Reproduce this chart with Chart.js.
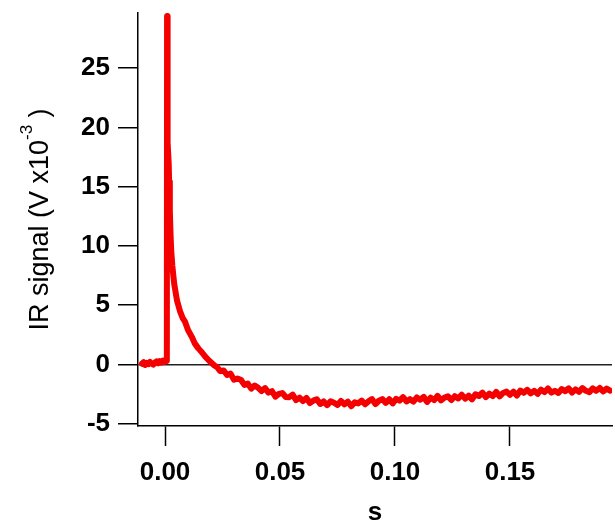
<!DOCTYPE html>
<html>
<head>
<meta charset="utf-8">
<script src="https://cdn.jsdelivr.net/npm/chart.js@4/dist/chart.umd.min.js"></script>
<style>
  html, body { margin: 0; padding: 0; background: #fff; }
  #wrap { width: 615px; height: 521px; }
</style>
</head>
<body>
<div id="wrap"><canvas id="c" width="615" height="521"></canvas></div>
<script>
// Transient IR detector signal after the pulse (time in s, signal in V x10^-3)
const time = [
  -0.0100, -0.0093, -0.0086, -0.0079, -0.0072, -0.0065, -0.0058, -0.0051, -0.0044, -0.0037,
  -0.0030, -0.0023, -0.0016, -0.0009, -0.0002, 0.0005, 0.0008,
  0.0009, 0.0010, 0.0011, 0.0013, 0.0016, 0.0018, 0.0021, 0.0024, 0.0027, 0.0032,
  0.0040, 0.0052, 0.0065, 0.0077, 0.0087, 0.0100, 0.0117, 0.0130, 0.0145, 0.0161,
  0.0175, 0.0190, 0.0204, 0.0215,
  0.0225, 0.0240, 0.0255, 0.0270, 0.0285, 0.0300, 0.0315, 0.0330, 0.0345, 0.0360,
  0.0375, 0.0390, 0.0405, 0.0420, 0.0435, 0.0450, 0.0465, 0.0480, 0.0495, 0.0510,
  0.0525, 0.0540, 0.0555, 0.0570, 0.0585, 0.0600, 0.0615, 0.0630, 0.0645, 0.0660,
  0.0675, 0.0690, 0.0705, 0.0720, 0.0735, 0.0750, 0.0765, 0.0780, 0.0795, 0.0810,
  0.0825, 0.0840, 0.0855, 0.0870, 0.0885, 0.0900, 0.0915, 0.0930, 0.0945, 0.0960,
  0.0975, 0.0990, 0.1005, 0.1020, 0.1035, 0.1050, 0.1065, 0.1080, 0.1095, 0.1110,
  0.1125, 0.1140, 0.1155, 0.1170, 0.1185, 0.1200, 0.1215, 0.1230, 0.1245, 0.1260,
  0.1275, 0.1290, 0.1305, 0.1320, 0.1335, 0.1350, 0.1365, 0.1380, 0.1395, 0.1410,
  0.1425, 0.1440, 0.1455, 0.1470, 0.1485, 0.1500, 0.1515, 0.1530, 0.1545, 0.1560,
  0.1575, 0.1590, 0.1605, 0.1620, 0.1635, 0.1650, 0.1665, 0.1680, 0.1695, 0.1710,
  0.1725, 0.1740, 0.1755, 0.1770, 0.1785, 0.1800, 0.1815, 0.1830, 0.1845, 0.1860,
  0.1875, 0.1890, 0.1905, 0.1920, 0.1935
];

const signal = [
  0.05, 0.18, -0.05, 0.12, 0.02, 0.20, 0.08, -0.02, 0.15, 0.25,
  0.10, 0.28, 0.15, 0.32, 0.20, 0.35, 0.30,
  29.4, 25.0, 21.0, 18.7, 17.0, 15.4, 13.0, 11.0, 9.6, 8.3,
  6.8, 5.4, 4.5, 3.9, 3.6, 2.9, 2.3, 1.75, 1.35, 1.0,
  0.65, 0.35, 0.10, -0.10,
  -0.20, -0.57, -0.52, -0.90, -0.78, -1.30, -1.20, -1.30, -1.73, -1.62,
  -2.05, -1.78, -1.98, -2.25, -2.00, -2.38, -2.26, -2.72, -2.49, -2.42,
  -2.75, -2.77, -2.55, -3.01, -2.81, -3.09, -2.83, -3.26, -3.06, -2.94,
  -3.34, -3.13, -3.44, -3.12, -3.24, -3.42, -3.09, -3.37, -3.15, -3.53,
  -3.20, -3.29, -3.06, -3.37, -3.12, -2.93, -3.35, -3.07, -2.93, -3.25,
  -2.94, -3.29, -2.91, -3.06, -2.77, -3.13, -2.93, -3.14, -2.79, -2.98,
  -2.75, -3.17, -2.81, -3.01, -2.66, -3.03, -2.80, -2.70, -3.01, -2.68,
  -2.88, -2.56, -2.89, -2.64, -2.95, -2.52, -2.67, -2.39, -2.76, -2.47,
  -2.67, -2.32, -2.70, -2.41, -2.30, -2.57, -2.30, -2.63, -2.21, -2.40,
  -2.15, -2.45, -2.23, -2.49, -2.14, -2.34, -2.03, -2.38, -2.23, -2.41,
  -2.08, -2.26, -2.02, -2.37, -2.11, -2.32, -2.00, -2.23, -2.34, -2.02,
  -2.23, -1.99, -2.29, -2.05, -2.22
];

const xTicks = [0.00, 0.05, 0.10, 0.15];
const yTicks = [-5, 0, 5, 10, 15, 20, 25];
const xRange = [-0.01174, 0.19435];
const yRange = [-5.2, 29.65];

const xTitle = 's';
const yTitleParts = ['IR signal (V x10', '-3', ' )'];

const FAMILY = "'Liberation Sans', Arial, sans-serif";

// Rotated y-axis title with a superscript exponent
const yTitlePlugin = {
  id: 'yTitle',
  afterDraw(chart) {
    const { ctx, chartArea } = chart;
    const cy = (chartArea.top + chartArea.bottom) / 2;
    const mainFont = '27px ' + FAMILY;
    const supFont = '17px ' + FAMILY;
    ctx.save();
    ctx.translate(48, cy);
    ctx.rotate(-Math.PI / 2);
    ctx.fillStyle = '#000';
    ctx.textBaseline = 'alphabetic';
    ctx.textAlign = 'left';
    ctx.font = mainFont;
    const w1 = ctx.measureText(yTitleParts[0]).width;
    const w3 = ctx.measureText(yTitleParts[2]).width;
    ctx.font = supFont;
    const w2 = ctx.measureText(yTitleParts[1]).width;
    let x = -(w1 + w2 + w3) / 2;
    ctx.font = mainFont;
    ctx.fillText(yTitleParts[0], x, 0);
    x += w1;
    ctx.font = supFont;
    ctx.fillText(yTitleParts[1], x, -16);
    x += w2;
    ctx.font = mainFont;
    ctx.fillText(yTitleParts[2], x, 0);
    ctx.restore();
  }
};

const points = time.map((t, i) => ({ x: t, y: signal[i] }));

new Chart(document.getElementById('c'), {
  type: 'line',
  data: {
    datasets: [{
      data: points,
      borderColor: 'rgb(245,0,0)',
      borderWidth: 6,
      borderJoinStyle: 'round',
      borderCapStyle: 'round',
      pointRadius: 0,
      tension: 0,
      fill: false
    }]
  },
  options: {
    responsive: false,
    animation: false,
    devicePixelRatio: 1,
    layout: { padding: { top: 13, right: 3, left: 0, bottom: 0 } },
    plugins: { legend: { display: false }, tooltip: { enabled: false } },
    scales: {
      x: {
        type: 'linear',
        min: xRange[0],
        max: xRange[1],
        afterBuildTicks: s => { s.ticks = xTicks.map(v => ({ value: v })); },
        afterFit: s => { s.height = 95; s.paddingLeft = 0; s.paddingRight = 0; },
        border: { display: true, color: '#000', width: 1.5 },
        grid: {
          display: true,
          drawOnChartArea: false,
          drawTicks: true,
          tickLength: 20,
          tickColor: '#000',
          tickWidth: 1.5
        },
        ticks: {
          color: '#000',
          padding: 11,
          maxRotation: 0,
          font: { family: FAMILY, size: 26, weight: 'bold' },
          callback: v => Number(v).toFixed(2)
        },
        title: {
          display: true,
          text: xTitle,
          color: '#000',
          font: { family: FAMILY, size: 26, weight: 'bold', lineHeight: 1 },
          padding: { top: 0, bottom: -5 }
        }
      },
      y: {
        type: 'linear',
        min: yRange[0],
        max: yRange[1],
        afterBuildTicks: s => { s.ticks = yTicks.map(v => ({ value: v })); },
        afterFit: s => { s.width = 138; s.paddingTop = 0; s.paddingBottom = 0; },
        border: { display: true, color: '#000', width: 1.5 },
        grid: {
          display: true,
          drawOnChartArea: true,
          drawTicks: true,
          tickLength: 20,
          tickColor: '#000',
          tickWidth: 1.5,
          lineWidth: 1.5,
          color: c => (c.tick && c.tick.value === 0) ? '#222' : 'rgba(0,0,0,0)'
        },
        ticks: {
          color: '#000',
          padding: 8,
          font: { family: FAMILY, size: 26, weight: 'bold' },
          callback: v => String(v)
        }
      }
    }
  },
  plugins: [yTitlePlugin]
});
</script>
</body>
</html>
